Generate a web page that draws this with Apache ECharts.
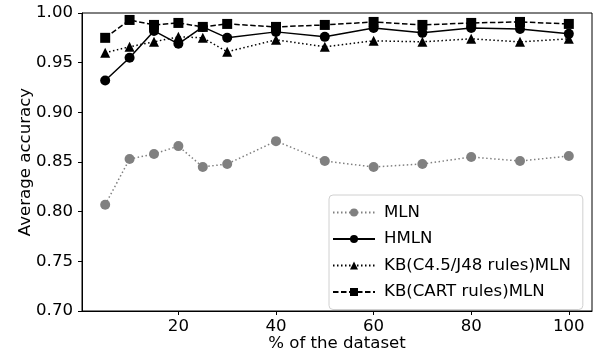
<!DOCTYPE html>
<html lang="en">
<head>
    <meta charset="UTF-8">
    <title>Average accuracy</title>
    <style>
        html, body { margin: 0; padding: 0; background: #fff; }
        #main { width: 599px; height: 356px; }
    </style>
</head>
<body>
   <div id="main"></div>
    <script src="https://cdn.jsdelivr.net/npm/echarts@6/dist/echarts.min.js"></script>
    <script>
    // % of the dataset
    var percents = [5, 10, 15, 20, 25, 30, 40, 50, 60, 70, 80, 90, 100];
    var mln  = [0.807, 0.853, 0.858, 0.866, 0.845, 0.848, 0.871, 0.851, 0.845, 0.848, 0.855, 0.851, 0.856];
    var hmln = [0.932, 0.955, 0.982, 0.969, 0.986, 0.975, 0.981, 0.976, 0.985, 0.980, 0.985, 0.984, 0.979];
    var kbC45 = [0.960, 0.966, 0.971, 0.976, 0.975, 0.961, 0.973, 0.966, 0.972, 0.971, 0.974, 0.971, 0.974];
    var kbCart = [0.975, 0.993, 0.988, 0.990, 0.986, 0.989, 0.986, 0.988, 0.991, 0.988, 0.990, 0.991, 0.989];
    var xTicks = [20, 40, 60, 80, 100];

    function pairs(ys) {
        return percents.map(function (x, i) { return [x, ys[i]]; });
    }

    var font = 'DejaVu Sans';
    var fs = 16.6;
    var myChart = echarts.init(document.getElementById('main'));

    function lineSeries(name, ys, color, type, symbol, size) {
        return {
            name: name,
            type: 'line',
            data: pairs(ys),
            symbol: symbol,
            symbolSize: size,
            showAllSymbol: true,
            animation: false,
            lineStyle: { color: color, width: 1.5, type: type },
            itemStyle: { color: color }
        };
    }

    var option = {
        animation: false,
        textStyle: { fontFamily: font },
        grid: {
            left: 82, right: 7, top: 13, bottom: 45,
            outerBoundsMode: 'none',
            show: true, borderColor: '#000', borderWidth: 1
        },
        legend: {
            orient: 'vertical',
            left: 329, top: 195,
            padding: [9, 12, 9, 3],
            itemGap: 9.5,
            itemWidth: 42,
            itemHeight: 10,
            backgroundColor: '#fff',
            borderColor: '#d0d0d0',
            borderWidth: 1,
            borderRadius: 4,
            textStyle: { fontFamily: font, fontSize: fs, color: '#000', padding: [0, 0, 0, 4] },
            data: ['MLN', 'HMLN', 'KB(C4.5/J48 rules)MLN', 'KB(CART rules)MLN']
        },
        xAxis: {
            type: 'value',
            min: 0.25, max: 104.75,
            name: '% of the dataset',
            nameLocation: 'middle',
            nameGap: 24,
            nameMoveOverlap: false,
            nameTextStyle: { fontFamily: font, fontSize: fs, color: '#000' },
            splitLine: { show: false },
            axisLine: { lineStyle: { color: '#000', width: 1 } },
            axisTick: { show: true, length: 4, customValues: xTicks, lineStyle: { color: '#000' } },
            axisLabel: { customValues: xTicks, margin: 7, fontFamily: font, fontSize: fs, color: '#000' }
        },
        yAxis: {
            type: 'value',
            min: 0.70, max: 1.00, interval: 0.05,
            name: 'Average accuracy',
            nameLocation: 'middle',
            nameGap: 48,
            nameMoveOverlap: false,
            nameTextStyle: { fontFamily: font, fontSize: fs, color: '#000' },
            splitLine: { show: false },
            axisLine: { show: true, lineStyle: { color: '#000', width: 1 } },
            axisTick: { show: true, length: 4, lineStyle: { color: '#000' } },
            axisLabel: {
                margin: 9, fontFamily: font, fontSize: fs, color: '#000',
                formatter: function (v) { return v.toFixed(2); }
            }
        },
        series: [
            lineSeries('MLN', mln, '#808080', [1.5, 2.5], 'circle', 10),
            lineSeries('HMLN', hmln, '#000', 'solid', 'circle', 10),
            lineSeries('KB(C4.5/J48 rules)MLN', kbC45, '#000', [1.5, 2.5], 'triangle', 10),
            lineSeries('KB(CART rules)MLN', kbCart, '#000', [5.5, 2.5], 'rect', 10)
        ]
    };
    myChart.setOption(option);
    </script>
</body>
</html>
